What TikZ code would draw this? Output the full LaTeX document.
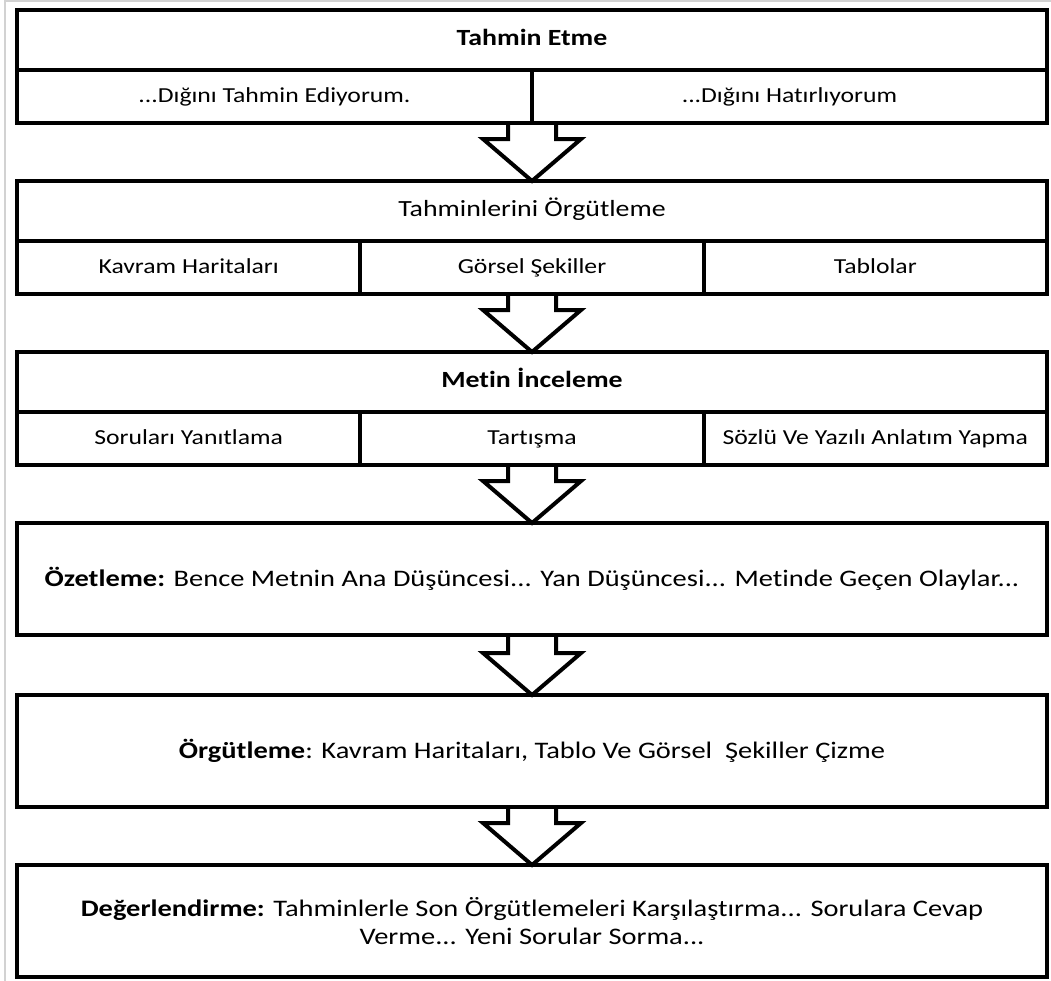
\documentclass[tikz,border=0pt]{standalone}
\usepackage{fontspec}
\setmainfont{Carlito}[FakeStretch=1.2, Ligatures=NoCommon]
\usetikzlibrary{positioning, calc}
\tikzstyle{titlebox} = [rectangle, draw=black, line width=2pt, outer sep=0pt, inner sep=2pt, minimum width=515pt, minimum height=30pt, text height=1.7ex, text depth=0.5ex, text centered, font=\fontsize{11.6}{14}\selectfont]
\tikzstyle{halfcell} = [rectangle, draw=black, line width=2pt, outer sep=0pt, inner sep=2pt, minimum width=257.5pt, minimum height=26.5pt, text height=1.7ex, text depth=0.5ex, text centered, font=\fontsize{10.7}{13}\selectfont]
\tikzstyle{thirdcell} = [halfcell, minimum width=171.67pt]
\tikzstyle{stagebox} = [rectangle, draw=black, line width=2pt, outer sep=0pt, inner sep=2pt, minimum width=515pt, minimum height=56pt, text centered, font=\fontsize{11.85}{14.2}\selectfont]
\tikzstyle{hollowarrow} = [line width=2pt, line join=miter, to path={let \p1=(\tikztostart), \p2=(\tikztotarget) in (\x1-12pt,\y1) -- (\x1-12pt,\y2+21pt) -- (\x1-24.5pt,\y2+21pt) -- (\x2,\y2) -- (\x1+24.5pt,\y2+21pt) -- (\x1+12pt,\y2+21pt) -- (\x1+12pt,\y1)}]

\begin{document}
\begin{tikzpicture}[x=0.5pt, y=-0.5pt, node distance=29pt and 0pt]
\useasboundingbox (0,0) rectangle (1051,981);
\draw [gray!35, line width=0.75pt] (5,981) -- (5,1) -- (1051,1);

% Tahmin
\node (tahmin) [titlebox, anchor=north west] at (17,10) {\textbf{Tahmin Etme}};
\node (tahminL) [halfcell, below right=0pt and 0pt of tahmin.south west] {...Dığını Tahmin Ediyorum.};
\node (tahminR) [halfcell, right=0pt of tahminL] {...Dığını Hatırlıyorum};

% Orgutleme (tablo)
\node (orgut) [titlebox, below=of tahminL.south east] {Tahminlerini Örgütleme};
\node (kavram) [thirdcell, below right=0pt and 0pt of orgut.south west] {Kavram Haritaları};
\node (gorsel) [thirdcell, right=0pt of kavram] {Görsel Şekiller};
\node (tablo) [thirdcell, right=0pt of gorsel] {Tablolar};

% Metin inceleme
\node (metin) [titlebox, below=of gorsel] {\textbf{Metin İnceleme}};
\node (sorular) [thirdcell, below right=0pt and 0pt of metin.south west] {Soruları Yanıtlama};
\node (tartisma) [thirdcell, right=0pt of sorular] {Tartışma};
\node (anlatim) [thirdcell, right=0pt of tartisma] {Sözlü Ve Yazılı Anlatım Yapma};

% Son adimlar
\node (ozet) [stagebox, below=of tartisma] {\textbf{Özetleme:} Bence Metnin Ana Düşüncesi... Yan Düşüncesi... Metinde Geçen Olaylar...};
\node (orgutleme) [stagebox, below=30pt of ozet] {\textbf{Örgütleme}: Kavram Haritaları, Tablo Ve Görsel~ Şekiller Çizme};
\node (deger) [stagebox, below=of orgutleme, align=center] {\textbf{Değerlendirme:} Tahminlerle Son Örgütlemeleri Karşılaştırma... Sorulara Cevap\\Verme... Yeni Sorular Sorma...};

% Arrows
\draw [hollowarrow] (tahminL.south east) to (orgut.north);
\draw [hollowarrow] (gorsel.south) to (metin.north);
\draw [hollowarrow] (tartisma.south) to (ozet.north);
\draw [hollowarrow] (ozet.south) to (orgutleme.north);
\draw [hollowarrow] (orgutleme.south) to (deger.north);

\end{tikzpicture}
\end{document}
